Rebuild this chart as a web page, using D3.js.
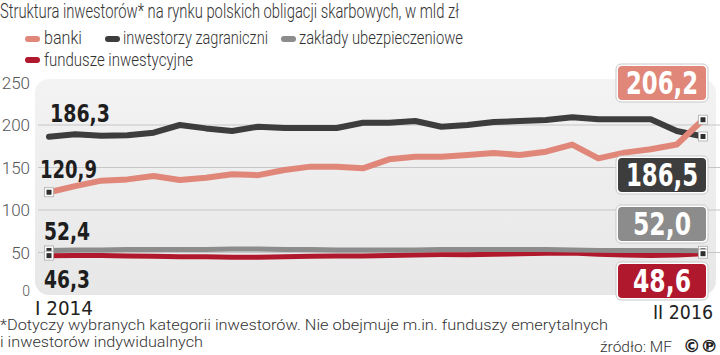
<!DOCTYPE html>
<html><head><meta charset="utf-8">
<script src="https://cdn.jsdelivr.net/npm/d3@7"></script>
<style>
html,body{margin:0;padding:0;background:#fff;}
svg{display:block;}
.cond{font-family:'Liberation Sans Narrow','DejaVu Sans Condensed','Roboto Condensed',sans-serif;font-stretch:condensed;}
.light{font-family:Roboto,'Noto Sans',sans-serif;font-weight:300;}
</style></head>
<body>
<svg id="c" width="720" height="355"></svg>
<script>
const months = ["I 2014","II 2014","III 2014","IV 2014","V 2014","VI 2014","VII 2014","VIII 2014","IX 2014","X 2014","XI 2014","XII 2014",
  "I 2015","II 2015","III 2015","IV 2015","V 2015","VI 2015","VII 2015","VIII 2015","IX 2015","X 2015","XI 2015","XII 2015",
  "I 2016","II 2016"];
const banki = [120.9,128,134.5,136,140,135.3,138,142,141,147,151,151,149,159.6,162.7,162.7,164.7,167,164.7,168.6,177,160.8,167.5,171.4,177,206.2];
const zagraniczni = [186.3,189,187.4,188,191,200,196,193,198,196.5,196.5,196.5,202.7,202.7,204.7,198,200,203.5,204.7,206,209,206.7,206.7,206.7,193,186.5];
const ubezpieczeniowe = [52.4,53,53,53.5,53.5,53.5,53.5,54,54,53.5,53.5,53,53,53,53,53.5,53.5,53.5,53.5,53.5,53,52.5,52.5,52.5,52.5,52.0];
const fundusze = [46.3,46.5,46.5,46,45.5,45,45,44.5,44.5,45,45.5,46,46,46.5,47,47.5,47.5,48,48.5,49,49.5,48,47,46.5,47,48.6];
const seriesNames = ["banki","inwestorzy zagraniczni","zakłady ubezpieczeniowe","fundusze inwestycyjne"];
const yTicks = [0,50,100,150,200,250];
const title = "Struktura inwestorów* na rynku polskich obligacji skarbowych, w mld zł";
const footnote1 = "*Dotyczy wybranych kategorii inwestorów. Nie obejmuje m.in. funduszy emerytalnych";
const footnote2 = "i inwestorów indywidualnych";
const source = "źródło: MF";

const colors = {banki:"#e0877a", zag:"#3d3d3d", ubez:"#8c8c8c", fund:"#b0182d"};
const svg = d3.select("#c");
const x = d3.scaleLinear().domain([0, months.length-1]).range([49, 703]);
const y = d3.scaleLinear().domain([0,250]).range([295, 82.5]);
const fmt = v => d3.format(".1f")(v).replace(".", ",");

// gradient panel
const defs = svg.append("defs");
const g = defs.append("linearGradient").attr("id","pg").attr("x1",0).attr("y1",0).attr("x2",0).attr("y2",1);
g.append("stop").attr("offset","0%").attr("stop-color","#f3f3f3");
g.append("stop").attr("offset","100%").attr("stop-color","#e7e7e7");
svg.append("rect").attr("x",35).attr("y",79).attr("width",681).attr("height",216).attr("rx",14).attr("fill","url(#pg)");

// title
svg.append("text").attr("class","light").attr("x",0).attr("y",18).attr("font-size",19.5).attr("fill","#333")
  .attr("textLength",459).attr("lengthAdjust","spacingAndGlyphs").text(title);

// legend
const legend = [
  {name:seriesNames[0], c:colors.banki, sx:25, tx:44, tw:38, y:39, ty:43.5},
  {name:seriesNames[1], c:colors.zag, sx:105, tx:123, tw:145, y:39, ty:43.5},
  {name:seriesNames[2], c:colors.ubez, sx:281, tx:299, tw:164, y:39, ty:43.5},
  {name:seriesNames[3], c:colors.fund, sx:25, tx:44, tw:149, y:60, ty:66}
];
legend.forEach(l=>{
  svg.append("rect").attr("x",l.sx).attr("y",l.y-3).attr("width",15).attr("height",6).attr("rx",3).attr("fill",l.c);
  svg.append("text").attr("class","light").attr("x",l.tx).attr("y",l.ty).attr("font-size",19).attr("fill","#333")
    .attr("textLength",l.tw).attr("lengthAdjust","spacingAndGlyphs").text(l.name);
});

// grid + y labels
const yAxis = d3.axisLeft(y).tickValues(yTicks).tickSize(0).tickPadding(0).tickFormat(d3.format("d"));
const ya = svg.append("g").attr("transform","translate(30,0)").call(yAxis);
ya.select(".domain").remove();
ya.selectAll("text").attr("font-size",d=>d===0?14:17).attr("fill","#555")
  .attr("dy", d=>d===0?"0.0em":"0.35em").style("font-family","Roboto,'Noto Sans',sans-serif").style("font-weight",300);
svg.append("g").selectAll("line").data(yTicks.filter(d=>d>0 && d<250)).join("line")
  .attr("x1",38).attr("x2",720).attr("y1",d=>y(d)).attr("y2",d=>y(d))
  .attr("stroke","#c6c6c6").attr("stroke-width",1);

// lines
const line = d3.line().x((d,i)=>x(i)).y(d=>y(d));
const drawLine = (data,c,w)=> svg.append("path").attr("d",line(data)).attr("fill","none").attr("stroke",c)
  .attr("stroke-width",w).attr("stroke-linejoin","round").attr("stroke-linecap","round");
drawLine(fundusze, colors.fund, 5);
drawLine(ubezpieczeniowe, colors.ubez, 5);
drawLine(zagraniczni, colors.zag, 6);
drawLine(banki, colors.banki, 6);

// markers
const marker = (i,v)=>{
  const cx=x(i), cy=y(v);
  svg.append("rect").attr("x",cx-4.5).attr("y",cy-4.5).attr("width",9).attr("height",9).attr("fill","#fff").attr("stroke","#aaa").attr("stroke-width",0.8);
  svg.append("rect").attr("x",cx-2.5).attr("y",cy-2.5).attr("width",5).attr("height",5).attr("fill","#2e2e2e");
};
const last = months.length-1;
marker(0,banki[0]); marker(0,ubezpieczeniowe[0]); marker(0,fundusze[0]);
marker(last,zagraniczni[last]); marker(last,banki[last]); marker(last,ubezpieczeniowe[last]); marker(last,fundusze[last]);

// start labels
const startLabels = [
  {v:zagraniczni[0], x:50, y:122, w:60},
  {v:banki[0], x:40, y:178, w:57},
  {v:ubezpieczeniowe[0], x:44, y:240, w:46},
  {v:fundusze[0], x:44, y:288, w:46}
];
startLabels.forEach(s=>{
  svg.append("text").attr("class","cond").attr("x",s.x).attr("y",s.y).attr("font-size",25).attr("font-weight","bold")
    .attr("fill","#1e1e1e").attr("textLength",s.w).attr("lengthAdjust","spacingAndGlyphs").text(fmt(s.v));
});

// end boxes
const endBoxes = [
  {v:banki[last], c:colors.banki, y0:65, h:36},
  {v:zagraniczni[last], c:colors.zag, y0:157, h:36},
  {v:ubezpieczeniowe[last], c:colors.ubez, y0:206, h:36},
  {v:fundusze[last], c:colors.fund, y0:263, h:36}
];
endBoxes.forEach(b=>{
  svg.append("rect").attr("x",616).attr("y",b.y0-1).attr("width",92).attr("height",b.h+2).attr("rx",5)
    .attr("fill","#fff").attr("stroke","#c8c8c8").attr("stroke-width",1);
  svg.append("rect").attr("x",618).attr("y",b.y0+1).attr("width",88).attr("height",b.h-2).attr("rx",4).attr("fill",b.c);
  const txt = fmt(b.v);
  svg.append("text").attr("class","cond").attr("x",662).attr("y",b.y0+b.h/2+11).attr("text-anchor","middle")
    .attr("font-size",32).attr("font-weight","bold").attr("fill","#fff")
    .attr("textLength", txt.length===5?72:58).attr("lengthAdjust","spacingAndGlyphs").text(txt);
});

// x labels
svg.append("text").attr("class","cond").attr("x",35).attr("y",315).attr("font-size",19).attr("fill","#222")
  .attr("textLength",58).attr("lengthAdjust","spacingAndGlyphs").text(months[0]);
svg.append("text").attr("class","cond").attr("x",653).attr("y",319).attr("font-size",19).attr("fill","#222")
  .attr("textLength",60).attr("lengthAdjust","spacingAndGlyphs").text(months[last]);

// footnotes
svg.append("text").attr("class","light").attr("x",0).attr("y",330).attr("font-size",14.5).attr("fill","#333")
  .attr("textLength",608).attr("lengthAdjust","spacingAndGlyphs").text(footnote1);
svg.append("text").attr("class","light").attr("x",0).attr("y",347).attr("font-size",14.5).attr("fill","#333")
  .attr("textLength",203).attr("lengthAdjust","spacingAndGlyphs").text(footnote2);
svg.append("text").attr("class","light").attr("x",600).attr("y",352).attr("font-size",15).attr("fill","#333")
  .attr("textLength",72).attr("lengthAdjust","spacingAndGlyphs").text(source);
svg.append("text").attr("x",683).attr("y",352).attr("font-size",17).attr("font-weight","bold").attr("fill","#222")
  .style("font-family","'DejaVu Sans',sans-serif").attr("textLength",35).attr("lengthAdjust","spacingAndGlyphs").text("©℗");
</script>
</body></html>
